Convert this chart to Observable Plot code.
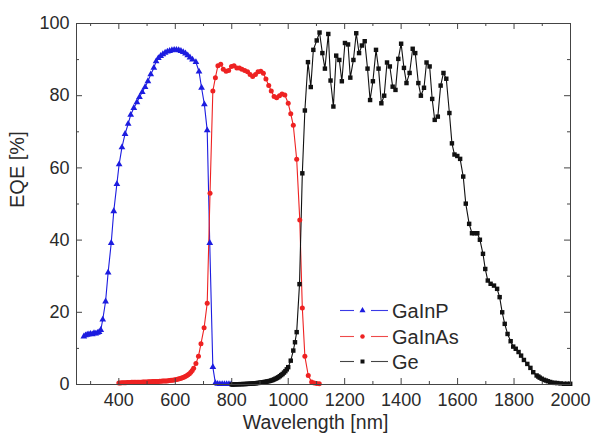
<!DOCTYPE html>
<html><head><meta charset="utf-8">
<script src="https://cdn.jsdelivr.net/npm/d3@7"></script>
<script src="https://cdn.jsdelivr.net/npm/@observablehq/plot@0.6"></script>
<style>
body{margin:0;background:#fff;}
#chart{width:593px;height:441px;}
</style>
</head><body><div id="chart"></div>
<script>
const gainpWl = [276,282,288,294,300,306,312,318,324,330,336,343,353,362,373,382,393,401,411,422,433,442,453,464,473,483,493,503,513,524,532,540,548,556,564,572,580,588,596,604,612,620,628,636,644,652,661,673,684,693,703,713,722,733,742,750,758,766,774,782,790,798];
const gainpEqe = [13.3,13.6,13.8,13.9,14.0,13.9,14.2,14.1,14.3,14.5,15.1,18.0,23.0,31.0,39.2,48.0,55.5,61.0,65.7,69.4,72.2,74.7,76.6,78.2,79.6,81.0,82.4,84.0,85.9,87.7,89.5,90.4,91.0,91.5,91.9,92.2,92.4,92.6,92.7,92.7,92.6,92.4,92.1,91.7,91.2,90.6,90.0,89.3,86.7,82.2,77.6,70.4,39.2,4.8,0.4,0.2,0.1,0.1,0.1,0.1,0.1,0.1];

const gainasWl = [400,405,410,415,420,425,430,435,440,445,450,455,460,465,470,475,480,485,490,495,500,505,510,515,520,525,530,535,540,545,550,555,560,565,570,575,580,585,590,595,600,605,610,615,620,625,630,635,640,645,650,655,660,665,673,682,691,702,713,723,733,742,751,761,770,780,789,799,808,818,827,836,846,856,865,874,884,893,903,912,921,931,940,950,959,969,978,988,1000,1009,1018,1030,1041,1050,1059,1071,1083,1092,1101,1110];
const gainasEqe = [0.4,0.45,0.5,0.5,0.5,0.5,0.55,0.55,0.55,0.6,0.6,0.6,0.6,0.6,0.65,0.65,0.65,0.7,0.7,0.7,0.7,0.75,0.75,0.75,0.8,0.8,0.8,0.85,0.85,0.9,0.9,0.95,0.95,1.0,1.0,1.05,1.1,1.15,1.2,1.25,1.3,1.4,1.5,1.6,1.7,1.85,2.0,2.2,2.4,2.7,3.0,3.4,3.9,4.5,5.8,7.8,11.3,15.7,22.5,53.0,81.3,85.0,88.3,88.7,87.3,86.8,87.0,88.1,88.3,87.7,87.7,87.3,87.0,86.6,85.9,85.3,85.9,86.6,86.8,86.2,84.6,82.8,81.3,79.8,79.4,80.0,80.5,80.2,77.9,75.0,71.8,62.4,45.6,21.2,7.8,2.5,0.7,0.4,0.3,0.2];

const geWl = [800,805,810,815,820,825,830,835,840,845,850,855,860,865,870,875,880,885,890,895,900,905,910,915,920,925,930,935,940,945,950,955,960,965,970,975,980,985,990,995,1000,1009,1018,1024,1030,1040,1050,1059,1070,1080,1089,1101,1111,1121,1130,1142,1150,1160,1170,1181,1190,1201,1212,1220,1231,1241,1251,1261,1271,1281,1290,1300,1311,1320,1330,1340,1350,1360,1370,1380,1390,1400,1410,1419,1430,1441,1450,1461,1470,1481,1490,1501,1510,1519,1530,1540,1550,1560,1571,1580,1589,1599,1609,1620,1629,1641,1651,1660,1670,1679,1690,1698,1707,1717,1729,1740,1749,1758,1767,1777,1788,1797,1806,1816,1825,1835,1847,1858,1868,1880,1886,1891,1898,1906,1913,1920,1928,1935,1944,1953,1965,1977,1988,1999];
const geEqe = [0.0,0.0,0.05,0.05,0.08,0.08,0.1,0.1,0.12,0.13,0.15,0.17,0.2,0.22,0.25,0.28,0.3,0.35,0.4,0.45,0.5,0.55,0.6,0.68,0.75,0.82,0.9,1.0,1.1,1.25,1.4,1.6,1.8,2.0,2.3,2.6,2.9,3.3,3.7,4.2,4.8,6.6,9.4,11.7,14.5,27.8,58.5,75.9,89.3,82.4,92.7,95.3,97.5,91.8,87.5,97.1,84.2,77.0,91.1,89.9,84.0,94.6,94.2,85.0,89.9,97.3,91.8,93.9,95.1,87.5,78.8,84.0,92.7,87.5,77.9,80.0,89.2,88.1,82.5,81.6,90.2,94.4,87.7,83.5,86.3,93.0,91.8,83.5,80.0,82.2,89.2,88.1,79.1,73.3,74.2,82.8,86.3,84.7,75.2,66.8,63.7,63.3,62.5,57.6,50.1,44.5,41.9,41.9,41.9,40.1,36.2,32.0,28.8,27.9,27.4,26.5,24.2,20.0,16.8,14.0,12.0,10.5,9.9,9.0,8.0,6.8,5.7,4.6,3.4,2.5,2.2,1.9,1.6,1.3,1.1,0.9,0.7,0.5,0.45,0.4,0.3,0.2,0.2,0.2];

const seriesNames = ["GaInP", "GaInAs", "Ge"];
const seriesColors = ["#1c1ce0", "#ee2222", "#111111"];
const legendLineColors = ["#3a3ae6", "#ee4a4a", "#444444"];
const seriesSymbols = ["triangle", "circle", "square"];

const xTickValues = [400,600,800,1000,1200,1400,1600,1800,2000];
const xMinorTicks = [300,500,700,900,1100,1300,1500,1700,1900];
const yTickValues = [0,20,40,60,80,100];
const yMinorTicks = [10,30,50,70,90];
const xDomain = [250, 2000];
const yDomain = [0, 100];
const xLabel = "Wavelength [nm]";
const yLabel = "EQE [%]";

const toRows = (wl, eqe, s) => wl.map((w, i) => ({wl: w, eqe: eqe[i], series: s}));
const data = [
  ...toRows(gainpWl, gainpEqe, "GaInP"),
  ...toRows(gainasWl, gainasEqe, "GaInAs"),
  ...toRows(geWl, geEqe, "Ge")
];

const W = 593, H = 441, mt = 23, mb = 57, ml = 76, mr = 23;
const ph = H - mt - mb, pw = W - ml - mr;
const tickColor = "#444";
const textColor = "#2a2a2a";

const chart = Plot.plot({
  width: W, height: H,
  marginTop: mt, marginBottom: mb, marginLeft: ml, marginRight: mr,
  x: {domain: xDomain, axis: null},
  y: {domain: yDomain, axis: null},
  color: {domain: seriesNames, range: seriesColors},
  symbol: {domain: seriesNames, range: seriesSymbols},
  style: {fontFamily: "'Liberation Sans', Arial, sans-serif", fontSize: "18px", color: textColor, background: "#fff"},
  marks: [
    Plot.line(data, {x: "wl", y: "eqe", z: "series", stroke: "series", strokeWidth: 1.1}),
    Plot.dot(data, {x: "wl", y: "eqe", fill: "series", symbol: "series", r: 2.5}),
    Plot.frame({stroke: tickColor, strokeWidth: 1}),
    Plot.tickX(xTickValues, {x: d => d, insetTop: ph - 6, stroke: tickColor}),
    Plot.tickX(xTickValues, {x: d => d, insetBottom: ph - 6, stroke: tickColor}),
    Plot.tickX(xMinorTicks, {x: d => d, insetTop: ph - 3, stroke: tickColor}),
    Plot.tickX(xMinorTicks, {x: d => d, insetBottom: ph - 3, stroke: tickColor}),
    Plot.tickY(yTickValues, {y: d => d, insetRight: pw - 6, stroke: tickColor}),
    Plot.tickY(yTickValues, {y: d => d, insetLeft: pw - 6, stroke: tickColor}),
    Plot.tickY(yMinorTicks, {y: d => d, insetRight: pw - 3, stroke: tickColor}),
    Plot.tickY(yMinorTicks, {y: d => d, insetLeft: pw - 3, stroke: tickColor}),
    Plot.axisX(xTickValues, {tickSize: 0, tickPadding: 9, fontSize: 18, fill: textColor, label: null, tickFormat: d => String(d)}),
    Plot.axisY(yTickValues, {tickSize: 0, tickPadding: 7, fontSize: 18, fill: textColor, label: null, tickFormat: d => String(d)}),
    Plot.text([xLabel], {frameAnchor: "bottom", dx: -8, dy: 44, fontSize: 19.5, fill: textColor}),
    Plot.text([yLabel], {frameAnchor: "left", rotate: -90, dx: -59, dy: 4, fontSize: 20, fill: textColor})
  ]
});

// legend inside plot area
const svg = d3.select(chart);
const lg = svg.append("g")
  .attr("font-family", "'Liberation Sans', Arial, sans-serif")
  .attr("font-size", 20)
  .attr("text-anchor", "start");
const rowY = [310.5, 336.5, 361.5];
const sym = {triangle: d3.symbolTriangle, circle: d3.symbolCircle, square: d3.symbolSquare};
seriesNames.forEach((name, i) => {
  const g = lg.append("g").attr("transform", `translate(0,${rowY[i]})`);
  g.append("line").attr("x1", 340).attr("x2", 354).attr("stroke", legendLineColors[i]).attr("stroke-width", 1.1);
  g.append("line").attr("x1", 371).attr("x2", 388).attr("stroke", legendLineColors[i]).attr("stroke-width", 1.1);
  g.append("path").attr("transform", "translate(362.5,0)").attr("d", d3.symbol(sym[seriesSymbols[i]], 16)()).attr("fill", seriesColors[i]);
  g.append("text").attr("x", 392).attr("dy", "0.35em").attr("text-anchor", "start").attr("fill", textColor).text(name);
});

document.getElementById("chart").appendChild(chart);
</script>
</body></html>
